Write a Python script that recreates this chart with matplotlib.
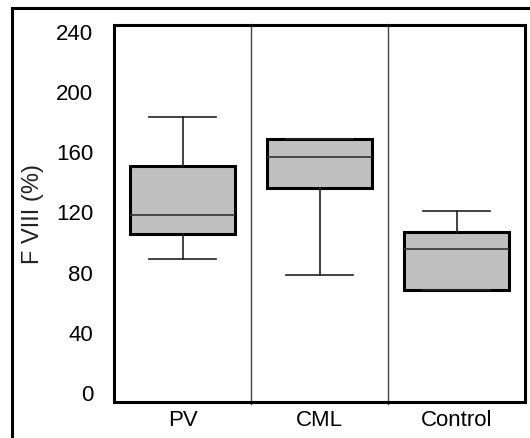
import matplotlib
matplotlib.use("Agg")
import matplotlib.pyplot as plt
from matplotlib.lines import Line2D

categories = ["PV", "CML", "Control"]
whis_low = [89, 78.5, 107]
q1 = [106, 136, 68.5]
median = [118, 157, 96]
q3 = [151, 169, 107]
whis_high = [183.5, 169, 121]
yticks = [0, 40, 80, 120, 160, 200, 240]

plt.rcParams['font.family'] = ['Liberation Sans', 'DejaVu Sans']

fig = plt.figure(figsize=(5.3, 4.38), dpi=100)
ax = fig.add_axes([114/530, 1 - 402/438, 411/530, 377/438])

stats = []
for i, c in enumerate(categories):
    lo, hi = whis_low[i], whis_high[i]
    stats.append(dict(label=c, med=median[i], q1=q1[i], q3=q3[i],
                      whislo=min(lo, q1[i]), whishi=max(hi, q3[i]), fliers=[]))

ax.bxp(stats, positions=range(len(categories)), widths=0.76, patch_artist=True,
       showfliers=False,
       boxprops=dict(facecolor='#c0c0c0', edgecolor='black', linewidth=2.2),
       medianprops=dict(color='#333333', linewidth=1.2),
       whiskerprops=dict(color='#222222', linewidth=1.2),
       capprops=dict(color='#222222', linewidth=1.2),
       capwidths=0.49)

for x in [0.5, 1.5]:
    ax.plot([x, x], [-7.5, 245.5], color='#444444', linewidth=1.0, zorder=0.5,
            clip_on=False)

ax.set_xlim(-0.5, 2.5)
ax.set_ylim(-6, 244.6)
ax.set_yticks(yticks)
ax.set_xticks(range(len(categories)))
ax.set_xticklabels(categories)
ax.tick_params(axis='both', length=0, labelsize=16, colors='black')
ax.tick_params(axis='y', pad=15)
ax.tick_params(axis='x', pad=6)
for s in ax.spines.values():
    s.set_linewidth(2.2)
ax.set_ylabel("F VIII (%)", fontsize=17, color='#222222')
ax.yaxis.set_label_coords(-0.17, 0.5)

# outer frame (clipped at right and bottom)
fig.add_artist(Line2D([12/530, 12/530], [0, 1 - 8/438], transform=fig.transFigure,
                      color='black', linewidth=2.2))
fig.add_artist(Line2D([12/530, 1.0], [1 - 8/438, 1 - 8/438], transform=fig.transFigure,
                      color='black', linewidth=2.2))

fig.savefig("out.png", dpi=100)
